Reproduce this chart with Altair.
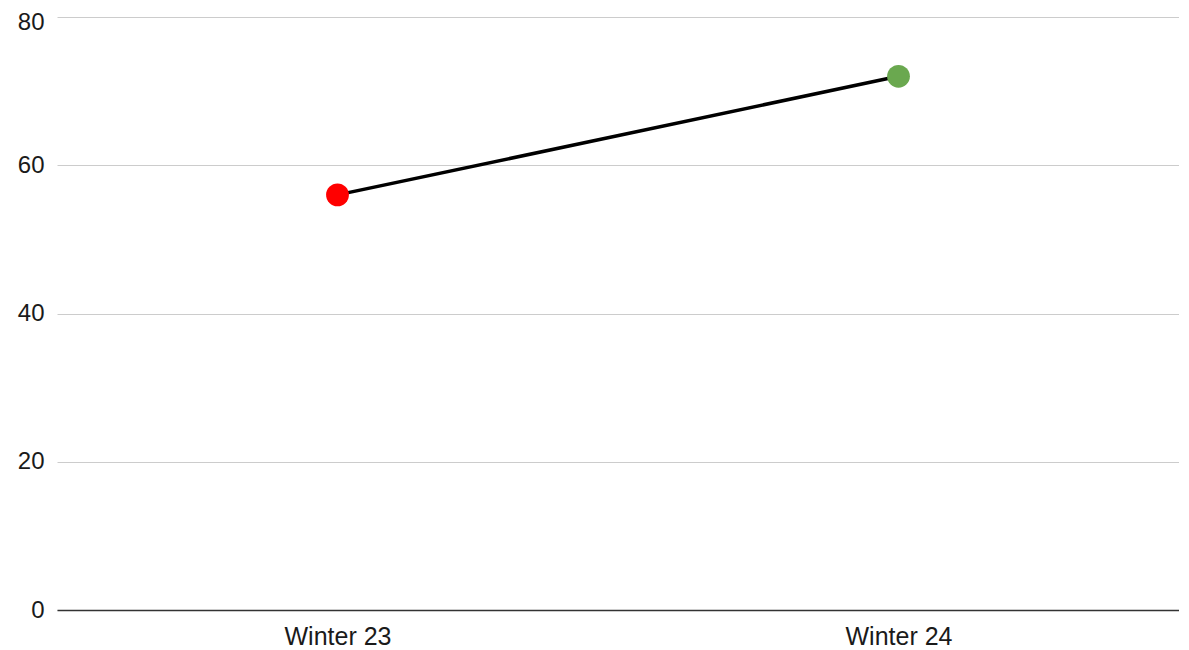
import altair as alt
import pandas as pd

categories = ["Winter 23", "Winter 24"]
values = [56, 72]
point_colors = ["#ff0000", "#6aa84f"]

df = pd.DataFrame({"season": categories, "value": values})

x = alt.X("season:N", sort=categories, title=None,
          scale=alt.Scale(paddingInner=0, paddingOuter=0.5),
          axis=alt.Axis(labelAngle=0, labelFontSize=25, labelColor="#1a1a1a",
                        labelFont="Liberation Sans", labelPadding=14, ticks=False,
                        domainColor="#333333", domainWidth=1.5, grid=False))
y = alt.Y("value:Q", title=None,
          scale=alt.Scale(domain=[0, 80], nice=False),
          axis=alt.Axis(values=[0, 20, 40, 60, 80], labelFontSize=24, labelColor="#1a1a1a",
                        labelFont="Liberation Sans", labelPadding=13, ticks=False,
                        labelOffset={"condition": {"test": "datum.value == 80", "value": 5}, "value": 0},
                        domain=False, gridColor="#cccccc", gridWidth=1))

line = alt.Chart(df).mark_line(color="#000000", strokeWidth=3.5).encode(x=x, y=y)
pts = alt.Chart(df).mark_circle(size=520, opacity=1).encode(
    x=x, y=y,
    color=alt.Color("season:N", scale=alt.Scale(domain=categories, range=point_colors), legend=None))

chart = (line + pts).properties(
    width=1122, height=593,
    autosize=alt.AutoSizeParams(type="none"),
    padding={"left": 49, "top": 9, "right": 0, "bottom": 40},
).configure_view(stroke=None)

chart.save("out.html", embed_options={"renderer": "svg", "actions": False})
